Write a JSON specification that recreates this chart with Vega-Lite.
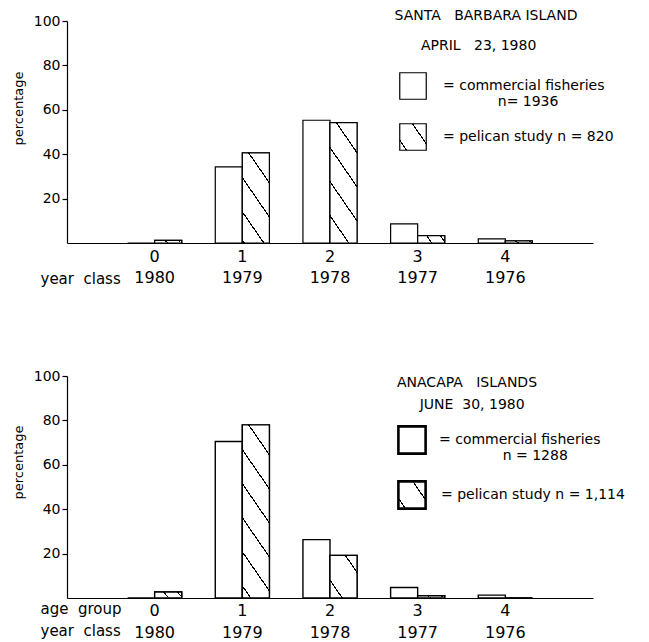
{
  "$schema": "https://vega.github.io/schema/vega-lite/v6.json",
  "background": "white",
  "padding": {"left": 12, "top": 9, "right": 0, "bottom": 0},
  "spacing": 83,
  "config": {
    "view": {"stroke": null},
    "font": "DejaVu Sans",
    "axis": {"grid": false, "domainColor": "black", "tickColor": "black", "labelColor": "black", "titleColor": "black", "domainWidth": 1.2, "tickWidth": 1.2},
    "legend": {"labelColor": "black"}
  },
  "data": {"values": [
    {"site": "SBI", "age": 0, "series": "commercial", "pct": 0},
    {"site": "SBI", "age": 0, "series": "pelican", "pct": 1.2},
    {"site": "SBI", "age": 1, "series": "commercial", "pct": 34.3},
    {"site": "SBI", "age": 1, "series": "pelican", "pct": 40.6},
    {"site": "SBI", "age": 2, "series": "commercial", "pct": 55.3},
    {"site": "SBI", "age": 2, "series": "pelican", "pct": 54.2},
    {"site": "SBI", "age": 3, "series": "commercial", "pct": 8.6},
    {"site": "SBI", "age": 3, "series": "pelican", "pct": 3.3},
    {"site": "SBI", "age": 4, "series": "commercial", "pct": 1.9},
    {"site": "SBI", "age": 4, "series": "pelican", "pct": 1.0},
    {"site": "ANA", "age": 0, "series": "commercial", "pct": 0},
    {"site": "ANA", "age": 0, "series": "pelican", "pct": 2.7},
    {"site": "ANA", "age": 1, "series": "commercial", "pct": 70.5},
    {"site": "ANA", "age": 1, "series": "pelican", "pct": 78},
    {"site": "ANA", "age": 2, "series": "commercial", "pct": 26.3},
    {"site": "ANA", "age": 2, "series": "pelican", "pct": 19.2},
    {"site": "ANA", "age": 3, "series": "commercial", "pct": 4.7},
    {"site": "ANA", "age": 3, "series": "pelican", "pct": 1.0},
    {"site": "ANA", "age": 4, "series": "commercial", "pct": 1.3},
    {"site": "ANA", "age": 4, "series": "pelican", "pct": 0}
  ]},
  "resolve": {"scale": {"x": "independent", "y": "independent", "fill": "independent", "stroke": "independent", "xOffset": "independent"}, "legend": {"fill": "independent", "stroke": "independent"}},
  "vconcat": [
    {
      "width": 526,
      "height": 222,
      "title": {"text": "SANTA\u00a0\u00a0\u00a0BARBARA ISLAND", "subtitle": "APRIL\u00a0\u00a0 23, 1980\u00a0\u2800", "anchor": "end", "align": "center", "dx": -107, "offset": -39, "frame": "group", "fontSize": 14, "fontWeight": "normal", "subtitleFontSize": 14, "subtitlePadding": 16, "subtitleColor": "black", "color": "black", "font": "DejaVu Sans", "subtitleFont": "DejaVu Sans"},
      "transform": [{"filter": "datum.site === 'SBI'"}],
      "layer": [
        {
          "mark": {"type": "bar", "stroke": "black", "strokeWidth": 1.2},
          "encoding": {
            "x": {"field": "age", "type": "nominal", "scale": {"domain": [0, 1, 2, 3, 4], "paddingInner": 0, "paddingOuter": 0.5},
              "axis": {"title": "year\u00a0\u00a0class", "labelExpr": "[datum.label, {'0':'1980','1':'1979','2':'1978','3':'1977','4':'1976'}[datum.label]]", "ticks": false, "labelPadding": 5, "labelFontSize": 16, "labelLineHeight": 21, "labelBaseline": "top", "labelAngle": 0, "labelOverlap": false, "titleFontSize": 15, "titleFontWeight": "normal", "titleX": -27, "titleY": 40, "titleAlign": "left", "titleAnchor": "start", "titleBaseline": "alphabetic"}},
            "xOffset": {"field": "series", "type": "nominal", "scale": {"domain": ["commercial", "pelican"], "paddingInner": 0, "paddingOuter": 0.62}},
            "y": {"field": "pct", "type": "quantitative", "scale": {"domain": [0, 100]},
              "axis": {"title": "percentage", "values": [20, 40, 60, 80, 100], "tickSize": 5, "labelPadding": 2, "labelFontSize": 14, "titleFontSize": 13, "titleFontWeight": "normal", "titlePadding": 8, "titleY": 87, "labelFlush": false}},
            "fill": {"field": "series", "type": "nominal", "scale": {"domain": ["commercial", "pelican"], "range": ["white", "white"]},
              "legend": {"orient": "none", "legendX": 332, "legendY": 51, "values": ["commercial"], "title": null, "padding": 0, "symbolType": "square", "symbolSize": 702, "symbolStrokeColor": "black", "symbolStrokeWidth": 1.2, "labelFontSize": 14, "labelOffset": 16, "labelLimit": 400, "labelLineHeight": 19,
                "labelExpr": "['= commercial fisheries', '\u2800\u00a0\u00a0\u00a0\u00a0\u00a0\u00a0\u00a0\u00a0\u00a0\u00a0n= 1936']"}}
          }
        },
        {
          "transform": [{"filter": "datum.series === 'pelican'"}],
          "mark": {"type": "bar", "stroke": "black", "strokeWidth": 1.2},
          "encoding": {
            "x": {"field": "age", "type": "nominal"},
            "xOffset": {"field": "series", "type": "nominal"},
            "y": {"field": "pct", "type": "quantitative"},
            "stroke": {"field": "series", "type": "nominal", "scale": {"domain": ["pelican"], "range": ["black"]},
              "legend": {"orient": "none", "legendX": 332, "legendY": 102, "title": null, "padding": 0, "symbolType": "square", "symbolSize": 702, "symbolStrokeWidth": 1.2, "labelFontSize": 14, "labelOffset": 16, "labelLimit": 400,
                "labelExpr": "'=  pelican study  n = 820'"}},
            "fill": {
              "condition": [
                {"test": "datum.pct < -1", "value": {"gradient": "linear", "x1": 1, "y1": 0, "x2": -0.1446, "y2": 0.7894, "stops": [{"offset": 0, "color": "white"}, {"offset": 0.2928, "color": "white"}, {"offset": 0.2928, "color": "black"}, {"offset": 0.3236, "color": "black"}, {"offset": 0.3236, "color": "white"}, {"offset": 0.832, "color": "white"}, {"offset": 0.832, "color": "black"}, {"offset": 0.8629, "color": "black"}, {"offset": 0.8629, "color": "white"}, {"offset": 1, "color": "white"}]}},
                {"test": "datum.pct >= 70", "value": {"gradient": "linear", "x1": 1, "y1": 0, "x2": 0.736, "y2": 1.1666, "stops": [{"offset": 0, "color": "white"}, {"offset": 0.1367, "color": "white"}, {"offset": 0.1367, "color": "black"}, {"offset": 0.1461, "color": "black"}, {"offset": 0.1461, "color": "white"}, {"offset": 0.297, "color": "white"}, {"offset": 0.297, "color": "black"}, {"offset": 0.3064, "color": "black"}, {"offset": 0.3064, "color": "white"}, {"offset": 0.4572, "color": "white"}, {"offset": 0.4572, "color": "black"}, {"offset": 0.4667, "color": "black"}, {"offset": 0.4667, "color": "white"}, {"offset": 0.6175, "color": "white"}, {"offset": 0.6175, "color": "black"}, {"offset": 0.6269, "color": "black"}, {"offset": 0.6269, "color": "white"}, {"offset": 0.7778, "color": "white"}, {"offset": 0.7778, "color": "black"}, {"offset": 0.7872, "color": "black"}, {"offset": 0.7872, "color": "white"}, {"offset": 0.938, "color": "white"}, {"offset": 0.938, "color": "black"}, {"offset": 0.9474, "color": "black"}, {"offset": 0.9474, "color": "white"}, {"offset": 1, "color": "white"}]}},
                {"test": "datum.pct >= 45", "value": {"gradient": "linear", "x1": 1, "y1": 0, "x2": 0.6089, "y2": 1.1987, "stops": [{"offset": 0, "color": "white"}, {"offset": 0.1822, "color": "white"}, {"offset": 0.1822, "color": "black"}, {"offset": 0.1948, "color": "black"}, {"offset": 0.1948, "color": "white"}, {"offset": 0.3958, "color": "white"}, {"offset": 0.3958, "color": "black"}, {"offset": 0.4084, "color": "black"}, {"offset": 0.4084, "color": "white"}, {"offset": 0.6095, "color": "white"}, {"offset": 0.6095, "color": "black"}, {"offset": 0.6221, "color": "black"}, {"offset": 0.6221, "color": "white"}, {"offset": 0.8231, "color": "white"}, {"offset": 0.8231, "color": "black"}, {"offset": 0.8357, "color": "black"}, {"offset": 0.8357, "color": "white"}, {"offset": 1, "color": "white"}]}},
                {"test": "datum.pct >= 30", "value": {"gradient": "linear", "x1": 1, "y1": 0, "x2": 0.4751, "y2": 1.2067, "stops": [{"offset": 0, "color": "white"}, {"offset": 0.2245, "color": "white"}, {"offset": 0.2245, "color": "black"}, {"offset": 0.24, "color": "black"}, {"offset": 0.24, "color": "white"}, {"offset": 0.4878, "color": "white"}, {"offset": 0.4878, "color": "black"}, {"offset": 0.5033, "color": "black"}, {"offset": 0.5033, "color": "white"}, {"offset": 0.7511, "color": "white"}, {"offset": 0.7511, "color": "black"}, {"offset": 0.7666, "color": "black"}, {"offset": 0.7666, "color": "white"}, {"offset": 0.9679, "color": "white"}, {"offset": 0.9679, "color": "black"}, {"offset": 0.9834, "color": "black"}, {"offset": 0.9834, "color": "white"}, {"offset": 1, "color": "white"}]}},
                {"test": "datum.pct >= 10", "value": {"gradient": "linear", "x1": 1, "y1": 0, "x2": 0.0439, "y2": 1.0404, "stops": [{"offset": 0, "color": "white"}, {"offset": 0.1957, "color": "white"}, {"offset": 0.1957, "color": "black"}, {"offset": 0.2202, "color": "black"}, {"offset": 0.2202, "color": "white"}, {"offset": 0.7706, "color": "white"}, {"offset": 0.7706, "color": "black"}, {"offset": 0.7951, "color": "black"}, {"offset": 0.7951, "color": "white"}, {"offset": 1, "color": "white"}]}},
                {"test": "datum.pct >= 0", "value": {"gradient": "linear", "x1": 1, "y1": 0, "x2": -0.142, "y2": 0.2042, "stops": [{"offset": 0, "color": "white"}, {"offset": 0.1083, "color": "white"}, {"offset": 0.1083, "color": "black"}, {"offset": 0.1517, "color": "black"}, {"offset": 0.1517, "color": "white"}, {"offset": 0.5417, "color": "white"}, {"offset": 0.5417, "color": "black"}, {"offset": 0.585, "color": "black"}, {"offset": 0.585, "color": "white"}, {"offset": 1, "color": "white"}]}},
                {"test": "datum.pct < -2", "value": {"gradient": "linear", "x1": 1, "y1": 0, "x2": -0.1446, "y2": 0.7894, "stops": [{"offset": 0, "color": "white"}, {"offset": 0.2928, "color": "white"}, {"offset": 0.2928, "color": "black"}, {"offset": 0.3236, "color": "black"}, {"offset": 0.3236, "color": "white"}, {"offset": 0.832, "color": "white"}, {"offset": 0.832, "color": "black"}, {"offset": 0.8629, "color": "black"}, {"offset": 0.8629, "color": "white"}, {"offset": 1, "color": "white"}]}}
              ],
              "value": {"gradient": "linear", "x1": 1, "y1": 0, "x2": -0.1446, "y2": 0.7894, "stops": [{"offset": 0, "color": "white"}, {"offset": 0.2928, "color": "white"}, {"offset": 0.2928, "color": "black"}, {"offset": 0.3236, "color": "black"}, {"offset": 0.3236, "color": "white"}, {"offset": 0.832, "color": "white"}, {"offset": 0.832, "color": "black"}, {"offset": 0.8629, "color": "black"}, {"offset": 0.8629, "color": "white"}, {"offset": 1, "color": "white"}]}
            }
          }
        }
      ]
    },
    {
      "width": 526,
      "height": 222,
      "title": {"text": "ANACAPA\u00a0\u00a0\u00a0ISLANDS", "subtitle": "\u2800JUNE\u00a0\u00a030, 1980", "anchor": "end", "align": "center", "dx": -126, "offset": -43, "frame": "group", "fontSize": 14, "fontWeight": "normal", "subtitleFontSize": 14, "subtitlePadding": 8, "subtitleColor": "black", "color": "black", "font": "DejaVu Sans", "subtitleFont": "DejaVu Sans"},
      "transform": [{"filter": "datum.site === 'ANA'"}],
      "layer": [
        {
          "mark": {"type": "bar", "stroke": "black", "strokeWidth": 1.4},
          "encoding": {
            "x": {"field": "age", "type": "nominal", "scale": {"domain": [0, 1, 2, 3, 4], "paddingInner": 0, "paddingOuter": 0.5},
              "axis": {"title": ["age\u00a0\u00a0group", "year\u00a0\u00a0class"], "labelExpr": "[datum.label, {'0':'1980','1':'1979','2':'1978','3':'1977','4':'1976'}[datum.label]]", "ticks": false, "labelPadding": 4, "labelFontSize": 16, "labelLineHeight": 22, "labelBaseline": "top", "labelAngle": 0, "labelOverlap": false, "titleFontSize": 15, "titleFontWeight": "normal", "titleLineHeight": 22, "titleX": -27, "titleY": 15, "titleAlign": "left", "titleAnchor": "start", "titleBaseline": "alphabetic"}},
            "xOffset": {"field": "series", "type": "nominal", "scale": {"domain": ["commercial", "pelican"], "paddingInner": 0, "paddingOuter": 0.62}},
            "y": {"field": "pct", "type": "quantitative", "scale": {"domain": [0, 100]},
              "axis": {"title": "percentage", "values": [20, 40, 60, 80, 100], "tickSize": 5, "labelPadding": 2, "labelFontSize": 14, "titleFontSize": 13, "titleFontWeight": "normal", "titlePadding": 8, "titleY": 86, "labelFlush": false}},
            "fill": {"field": "series", "type": "nominal", "scale": {"domain": ["commercial", "pelican"], "range": ["white", "white"]},
              "legend": {"orient": "none", "legendX": 330, "legendY": 49, "values": ["commercial"], "title": null, "padding": 0, "symbolType": "square", "symbolSize": 740, "symbolStrokeColor": "black", "symbolStrokeWidth": 2.6, "labelFontSize": 14, "labelOffset": 12, "labelLimit": 400, "labelLineHeight": 18,
                "labelExpr": "['= commercial fisheries', '\u2800\u00a0\u00a0\u00a0\u00a0\u00a0\u00a0\u00a0\u00a0\u00a0\u00a0\u00a0\u00a0n = 1288']"}}
          }
        },
        {
          "transform": [{"filter": "datum.series === 'pelican'"}],
          "mark": {"type": "bar", "stroke": "black", "strokeWidth": 1.4},
          "encoding": {
            "x": {"field": "age", "type": "nominal"},
            "xOffset": {"field": "series", "type": "nominal"},
            "y": {"field": "pct", "type": "quantitative"},
            "stroke": {"field": "series", "type": "nominal", "scale": {"domain": ["pelican"], "range": ["black"]},
              "legend": {"orient": "none", "legendX": 330, "legendY": 104, "title": null, "padding": 0, "symbolType": "square", "symbolSize": 740, "symbolStrokeWidth": 2.6, "labelFontSize": 14, "labelOffset": 14, "labelLimit": 400,
                "labelExpr": "'=  pelican study n = 1,114'"}},
            "fill": {
              "condition": [
                {"test": "datum.pct < -1", "value": {"gradient": "linear", "x1": 1, "y1": 0, "x2": -0.1446, "y2": 0.7894, "stops": [{"offset": 0, "color": "white"}, {"offset": 0.2628, "color": "white"}, {"offset": 0.2628, "color": "black"}, {"offset": 0.2936, "color": "black"}, {"offset": 0.2936, "color": "white"}, {"offset": 0.832, "color": "white"}, {"offset": 0.832, "color": "black"}, {"offset": 0.8629, "color": "black"}, {"offset": 0.8629, "color": "white"}, {"offset": 1, "color": "white"}]}},
                {"test": "datum.pct >= 70", "value": {"gradient": "linear", "x1": 1, "y1": 0, "x2": 0.736, "y2": 1.1666, "stops": [{"offset": 0, "color": "white"}, {"offset": 0.1367, "color": "white"}, {"offset": 0.1367, "color": "black"}, {"offset": 0.1461, "color": "black"}, {"offset": 0.1461, "color": "white"}, {"offset": 0.297, "color": "white"}, {"offset": 0.297, "color": "black"}, {"offset": 0.3064, "color": "black"}, {"offset": 0.3064, "color": "white"}, {"offset": 0.4572, "color": "white"}, {"offset": 0.4572, "color": "black"}, {"offset": 0.4667, "color": "black"}, {"offset": 0.4667, "color": "white"}, {"offset": 0.6175, "color": "white"}, {"offset": 0.6175, "color": "black"}, {"offset": 0.6269, "color": "black"}, {"offset": 0.6269, "color": "white"}, {"offset": 0.7778, "color": "white"}, {"offset": 0.7778, "color": "black"}, {"offset": 0.7872, "color": "black"}, {"offset": 0.7872, "color": "white"}, {"offset": 0.938, "color": "white"}, {"offset": 0.938, "color": "black"}, {"offset": 0.9474, "color": "black"}, {"offset": 0.9474, "color": "white"}, {"offset": 1, "color": "white"}]}},
                {"test": "datum.pct >= 45", "value": {"gradient": "linear", "x1": 1, "y1": 0, "x2": 0.6089, "y2": 1.1987, "stops": [{"offset": 0, "color": "white"}, {"offset": 0.1822, "color": "white"}, {"offset": 0.1822, "color": "black"}, {"offset": 0.1948, "color": "black"}, {"offset": 0.1948, "color": "white"}, {"offset": 0.3958, "color": "white"}, {"offset": 0.3958, "color": "black"}, {"offset": 0.4084, "color": "black"}, {"offset": 0.4084, "color": "white"}, {"offset": 0.6095, "color": "white"}, {"offset": 0.6095, "color": "black"}, {"offset": 0.6221, "color": "black"}, {"offset": 0.6221, "color": "white"}, {"offset": 0.8231, "color": "white"}, {"offset": 0.8231, "color": "black"}, {"offset": 0.8357, "color": "black"}, {"offset": 0.8357, "color": "white"}, {"offset": 1, "color": "white"}]}},
                {"test": "datum.pct >= 30", "value": {"gradient": "linear", "x1": 1, "y1": 0, "x2": 0.4751, "y2": 1.2067, "stops": [{"offset": 0, "color": "white"}, {"offset": 0.2245, "color": "white"}, {"offset": 0.2245, "color": "black"}, {"offset": 0.24, "color": "black"}, {"offset": 0.24, "color": "white"}, {"offset": 0.4878, "color": "white"}, {"offset": 0.4878, "color": "black"}, {"offset": 0.5033, "color": "black"}, {"offset": 0.5033, "color": "white"}, {"offset": 0.7511, "color": "white"}, {"offset": 0.7511, "color": "black"}, {"offset": 0.7666, "color": "black"}, {"offset": 0.7666, "color": "white"}, {"offset": 0.9679, "color": "white"}, {"offset": 0.9679, "color": "black"}, {"offset": 0.9834, "color": "black"}, {"offset": 0.9834, "color": "white"}, {"offset": 1, "color": "white"}]}},
                {"test": "datum.pct >= 10", "value": {"gradient": "linear", "x1": 1, "y1": 0, "x2": 0.0439, "y2": 1.0404, "stops": [{"offset": 0, "color": "white"}, {"offset": 0.1957, "color": "white"}, {"offset": 0.1957, "color": "black"}, {"offset": 0.2202, "color": "black"}, {"offset": 0.2202, "color": "white"}, {"offset": 0.7706, "color": "white"}, {"offset": 0.7706, "color": "black"}, {"offset": 0.7951, "color": "black"}, {"offset": 0.7951, "color": "white"}, {"offset": 1, "color": "white"}]}},
                {"test": "datum.pct >= 0", "value": {"gradient": "linear", "x1": 1, "y1": 0, "x2": -0.142, "y2": 0.2042, "stops": [{"offset": 0, "color": "white"}, {"offset": 0.1083, "color": "white"}, {"offset": 0.1083, "color": "black"}, {"offset": 0.1517, "color": "black"}, {"offset": 0.1517, "color": "white"}, {"offset": 0.5417, "color": "white"}, {"offset": 0.5417, "color": "black"}, {"offset": 0.585, "color": "black"}, {"offset": 0.585, "color": "white"}, {"offset": 1, "color": "white"}]}},
                {"test": "datum.pct < -2", "value": {"gradient": "linear", "x1": 1, "y1": 0, "x2": -0.1446, "y2": 0.7894, "stops": [{"offset": 0, "color": "white"}, {"offset": 0.2628, "color": "white"}, {"offset": 0.2628, "color": "black"}, {"offset": 0.2936, "color": "black"}, {"offset": 0.2936, "color": "white"}, {"offset": 0.832, "color": "white"}, {"offset": 0.832, "color": "black"}, {"offset": 0.8629, "color": "black"}, {"offset": 0.8629, "color": "white"}, {"offset": 1, "color": "white"}]}}
              ],
              "value": {"gradient": "linear", "x1": 1, "y1": 0, "x2": -0.1446, "y2": 0.7894, "stops": [{"offset": 0, "color": "white"}, {"offset": 0.2628, "color": "white"}, {"offset": 0.2628, "color": "black"}, {"offset": 0.2936, "color": "black"}, {"offset": 0.2936, "color": "white"}, {"offset": 0.832, "color": "white"}, {"offset": 0.832, "color": "black"}, {"offset": 0.8629, "color": "black"}, {"offset": 0.8629, "color": "white"}, {"offset": 1, "color": "white"}]}
            }
          }
        }
      ]
    }
  ]
}
